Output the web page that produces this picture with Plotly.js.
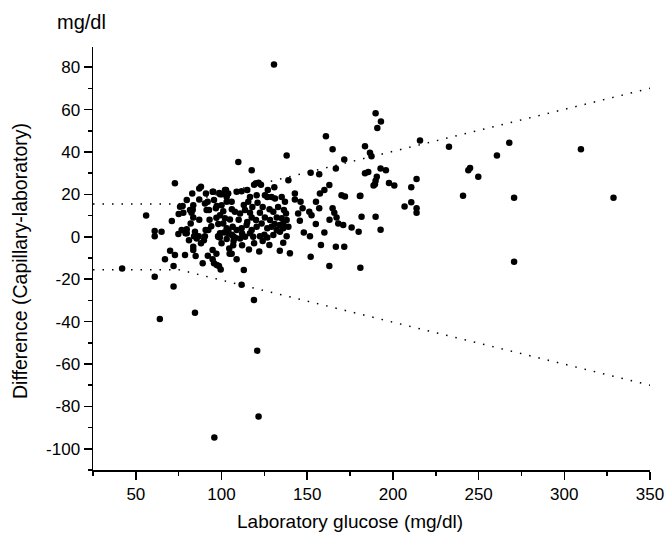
<!DOCTYPE html>
<html>
<head>
<meta charset="utf-8">
<script src="https://cdn.plot.ly/plotly-3.0.1.min.js"></script>
<style>html,body{margin:0;padding:0;background:#fff;}#chart{width:666px;height:536px;}</style>
</head>
<body>
<div id="chart"></div>
<script>
// Scatter points: laboratory glucose (mg/dl) vs difference capillary-laboratory (mg/dl)
const labGlucose = [
42,56,61,61,65,61,67,70,71,72.8,72.8,72,72,64,74.8,75.8,75,77.7,78.7,79.7,79,81,82,82.5,83.2,83.5,82.9,83.5,84,85,86.7,83.5,83.5,84.9,84.5,87,88,87,89,89.7,90.7,90.3,91.9,92.7,94.8,95.6,97.2,94.8,94.8,95.6,97.2,98.5,99.5,98.7,100.2,102.6,98.1,98,99,104.5,104.7,108.8,109.8,108.8,105.9,
111.7,118.9,120.8,121.6,95.8,130.6,113,
117.6,120.1,119,121.6,123,130.8,139,138,152,157,160.9,164.8,166.7,171.6,183.7,186.6,187.5,183.7,185.6,189.5,190.6,162.9,160,157.4,189.9,193,190.9,192.8,195.9,188.7,189.9,197.7,200.8,213.8,210.7,215.8,181,206.8,210.7,213.8,213.8,181.7,189.9,175.9,180,192.8,181,
232.7,240.9,244,245,249.8,260.7,267.9,270.7,270.7,309.7,328.7,
142.8,142.8,146.1,147.3,144.7,145.7,151.2,152.5,155.1,157,164.8,165.8,167.1,168.1,171,170,172,180.7,158,166.7,171.6,152,162.9,139.9,134,136,127.9,151.6,148,155,160,163,
90.9,95.2,99.1,102,103.9,103,111.7,116.6,115.6,120.5,125.3,126.7,129.2,131.2,135.1,137,136.4,96.7,100,103,91.3,79.7,81.6,77.3,
99.1,102,104.9,107.8,110.8,113.7,116.6,117.6,120.1,122.4,125.3,128.3,130.2,132.2,135.1,137.6,138,136,
101,103,106.5,108.8,111.7,114.6,117.6,120.5,123.4,126.7,129.2,132.2,134.1,136,139,
76.7,79.7,84.5,85.5,90.3,92.3,98.1,99.1,103.9,106.8,110.8,113.7,116.6,118.5,122.4,126.7,130.2,134.1,138,
101.5,104,106,108,103,
110,113,118,124,128,133,112,115,125,131,97,94,101,106,121,127,115,107,119,124,112,116,122,100,97,88,92,93,87,
105.9,106.8
];
const difference = [
-15,10,2.7,0.3,2.4,-18.8,-10.6,-6.6,7.4,25.2,-8.6,-13.8,-23.5,-38.8,1.3,14.1,10.7,11.3,-8.6,3.6,1.6,-1.6,6.3,11.3,12.8,14.9,20.4,9.1,0.3,0.3,0.3,-4.7,-6.3,-9.1,-35.8,22.8,23.6,17.6,-12.5,-1.6,3.2,15.7,16.5,12.6,21.2,17.3,14.5,-6.3,-10.6,-12.5,-13.3,-13.8,-15.4,20.7,20,22,6,0.3,-0.4,-5.5,-8,-10.6,35.3,21.2,16.5,
-22.6,-29.8,-53.7,-84.8,-94.7,81.3,-15.7,
31.4,25.2,24.5,25.5,24.5,23.3,26.7,38.3,30.2,29.5,47.4,41.3,32.2,36.5,42.7,39.6,38,29.9,30.6,24.8,28.3,24.4,22,20.4,58.3,54.4,51.3,32.2,31.4,24.2,26.4,25.3,24.2,27.3,23.4,45.4,19.3,14.3,16.3,13.5,11.3,9.4,9.4,4.4,2.4,3.3,-14.6,
42.4,19.3,31.4,32.4,28.3,38.3,44.3,18.4,-11.8,41.3,18.4,
20.4,17.6,16.5,13.4,11,7.5,11.8,10.2,16.5,13.4,13.4,11.3,9.1,6.3,5.5,19.6,19,19.2,-3.9,-4.7,-4.7,-9.4,-13.8,-7.8,-6.6,-2.8,-3.9,0.3,2,6,2,8,
20.4,21.2,20.1,22,20.4,18.8,21.5,18.8,16.5,19.6,19.6,18.8,18.8,18.1,18.8,16.5,12.6,13.4,14.9,16.5,12.6,17.3,12.6,14.5,
10.2,8.7,8.2,11.8,11,12.6,11.3,9.1,7.9,11.3,9.1,7.9,11.8,9.1,8.7,11,7.9,6.3,
6.3,4,4.7,3.2,4,5.5,3.2,4.7,6.3,4,4.7,3.2,5.5,4,4.7,
3.2,1.6,2.4,-0.8,0.3,3.2,0,1.6,1.6,0.3,-0.8,0,1.6,0,0.3,-0.3,0.8,2.4,0.3,
2,3,1,-0.5,-1,
8,15,14,14,13,14,1.5,7,1,6,9,5,12,13,16,22,22,-2,-3,-2,-4,-6,-7,-3,-8,-3,-9,8,8,
-8,-4
];
// Accuracy limits: +/-15 mg/dl below 75 mg/dl, +/-20% above
const limitX = [25, 75, 350];
const upperLimit = [15.5, 15.5, 70];
const lowerLimit = [-15.5, -15.5, -70];
const xTicks = [50, 100, 150, 200, 250, 300, 350];
const yTicks = [-100, -80, -60, -40, -20, 0, 20, 40, 60, 80];

const font = 'Liberation Sans, Arial, Helvetica, sans-serif';
const traces = [
  {x: limitX, y: upperLimit, mode: 'lines', line: {color: '#000', width: 1.5, dash: '1.5px,8px'}, hoverinfo: 'skip'},
  {x: limitX, y: lowerLimit, mode: 'lines', line: {color: '#000', width: 1.5, dash: '1.5px,8px'}, hoverinfo: 'skip'},
  {x: labGlucose, y: difference, mode: 'markers', marker: {color: '#000', size: 6.5}}
];
const layout = {
  width: 666, height: 536,
  margin: {l: 93, r: 16, t: 47, b: 66},
  paper_bgcolor: '#fff', plot_bgcolor: '#fff',
  showlegend: false,
  font: {family: font, color: '#000', size: 17},
  xaxis: {
    range: [25, 350], tickvals: xTicks, ticktext: xTicks.map(String),
    showgrid: false, zeroline: false, showline: true, linecolor: '#000', linewidth: 1.5,
    ticks: 'outside', ticklen: 8, tickwidth: 1.5, tickcolor: '#000',
    minor: {dtick: 25, tick0: 0, ticks: 'outside', ticklen: 4, tickwidth: 1.5, tickcolor: '#000', showgrid: false},
    tickfont: {size: 17, family: font}
  },
  yaxis: {
    range: [-110, 89.5], tickvals: yTicks, ticktext: yTicks.map(String),
    showgrid: false, zeroline: false, showline: true, linecolor: '#000', linewidth: 1.5,
    ticks: 'outside', ticklen: 8, tickwidth: 1.5, tickcolor: '#000',
    minor: {dtick: 10, tick0: 0, ticks: 'outside', ticklen: 4, tickwidth: 1.5, tickcolor: '#000', showgrid: false},
    tickfont: {size: 17, family: font}
  },
  annotations: [
    {text: 'mg/dl', xref: 'paper', yref: 'paper', x: -0.0198, y: 1.0591, xanchor: 'center', yanchor: 'middle', showarrow: false, font: {size: 20, family: font}},
    {text: 'Laboratory glucose (mg/dl)', xref: 'paper', yref: 'paper', x: 0.4614, y: -0.1229, xanchor: 'center', yanchor: 'middle', showarrow: false, font: {size: 19, family: font}},
    {text: 'Difference (Capillary-laboratory)', xref: 'paper', yref: 'paper', x: -0.1311, y: 0.4941, xanchor: 'center', yanchor: 'middle', textangle: -90, showarrow: false, font: {size: 19.5, family: font}}
  ]
};
Plotly.newPlot('chart', traces, layout, {staticPlot: true, displayModeBar: false});
</script>
</body>
</html>
